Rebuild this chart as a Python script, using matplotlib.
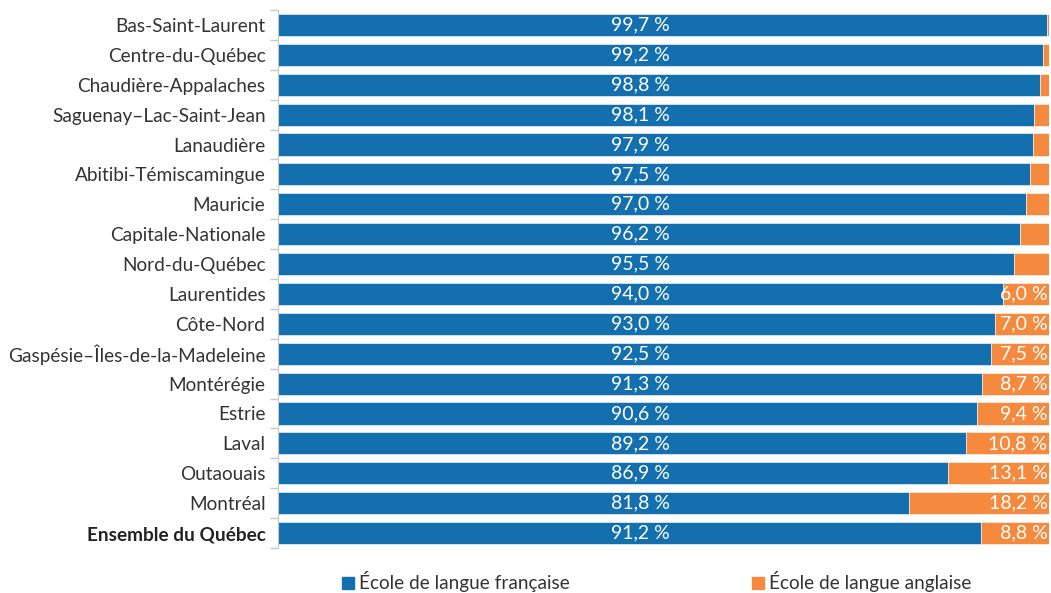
import matplotlib.pyplot as plt
import numpy as np

plt.rcParams['font.family'] = ['Lato', 'DejaVu Sans']

regions = [
    "Bas-Saint-Laurent", "Centre-du-Québec", "Chaudière-Appalaches",
    "Saguenay–Lac-Saint-Jean", "Lanaudière", "Abitibi-Témiscamingue",
    "Mauricie", "Capitale-Nationale", "Nord-du-Québec", "Laurentides",
    "Côte-Nord", "Gaspésie–Îles-de-la-Madeleine", "Montérégie", "Estrie",
    "Laval", "Outaouais", "Montréal", "Ensemble du Québec",
]
francais = [99.7, 99.2, 98.8, 98.1, 97.9, 97.5, 97.0, 96.2, 95.5, 94.0,
            93.0, 92.5, 91.3, 90.6, 89.2, 86.9, 81.8, 91.2]
anglais = [0.3, 0.8, 1.2, 1.9, 2.1, 2.5, 3.0, 3.8, 4.5, 6.0,
           7.0, 7.5, 8.7, 9.4, 10.8, 13.1, 18.2, 8.8]

blue = "#136fae"
orange = "#f58a3e"

fig = plt.figure(figsize=(10.51, 5.93), dpi=100)
ax = fig.add_axes([278 / 1051, 1 - 548 / 593, (1049 - 278) / 1051, 538 / 593])

y = np.arange(len(regions))
h = 0.74
ax.barh(y, francais, height=h, color=blue, edgecolor="white", linewidth=0.4)
ax.barh(y, anglais, left=francais, height=h, color=orange, edgecolor="white", linewidth=0.4)

for i, (f, a) in enumerate(zip(francais, anglais)):
    ax.text(47, i, f"{f:.1f} %".replace(".", ","), ha="center", va="center",
            color="white", fontsize=14)
    if a >= 6:
        ax.text(99.8, i, f"{a:.1f} %".replace(".", ","), ha="right", va="center",
                color="white", fontsize=14)

ax.set_xlim(0, 100)
ax.set_ylim(len(regions) - 0.5, -0.5)
ax.set_xticks([])
ax.set_yticks(y)
ax.set_yticklabels(regions, fontsize=13.7, color="#333333")
ax.get_yticklabels()[-1].set_fontweight("bold")
ax.get_yticklabels()[-1].set_color("#222222")
ax.set_yticks(np.arange(len(regions) + 1) - 0.5, minor=True)
ax.tick_params(axis="y", which="major", length=0, pad=9)
ax.tick_params(axis="y", which="minor", length=6, color="#c8c8c8", width=1)

for side in ["top", "right", "bottom"]:
    ax.spines[side].set_visible(False)
ax.spines["left"].set_color("#c8c8c8")

# legend squares drawn manually in figure coordinates
fig.patches.append(plt.Rectangle((342 / 1051, 1 - 589 / 593), 12 / 1051, 12 / 593,
                                 transform=fig.transFigure, color=blue))
fig.text(359 / 1051, 1 - 581 / 593, "École de langue française", fontsize=13.7,
         va="center", color="#333333")
fig.patches.append(plt.Rectangle((752 / 1051, 1 - 589 / 593), 12 / 1051, 12 / 593,
                                 transform=fig.transFigure, color=orange))
fig.text(769 / 1051, 1 - 581 / 593, "École de langue anglaise", fontsize=13.7,
         va="center", color="#333333")

fig.savefig("out.png", dpi=100)
